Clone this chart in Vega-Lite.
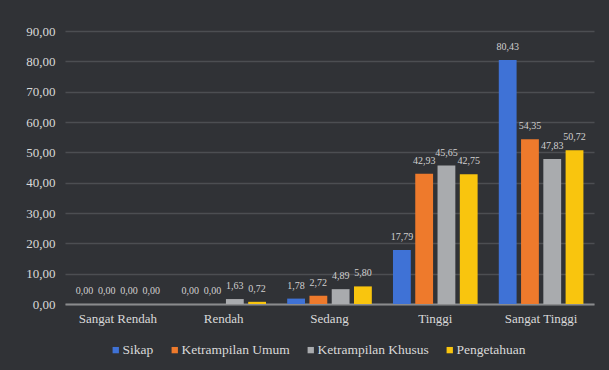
{
  "$schema": "https://vega.github.io/schema/vega-lite/v6.json",
  "width": 529,
  "height": 273,
  "autosize": {"type": "none"},
  "padding": {"left": 65, "top": 31, "right": 15, "bottom": 66},
  "background": "#303236",
  "config": {
    "locale": {"number": {"decimal": ",", "thousands": ".", "grouping": [3], "currency": ["", ""]}},
    "view": {"stroke": null},
    "font": "Liberation Serif",
    "legend": {"labelFont": "Liberation Serif", "titleFont": "Liberation Serif"}
  },
  "data": {
    "values": [
      {"kategori": "Sangat Rendah", "aspek": "Sikap", "nilai": 0},
      {"kategori": "Sangat Rendah", "aspek": "Ketrampilan Umum", "nilai": 0},
      {"kategori": "Sangat Rendah", "aspek": "Ketrampilan Khusus", "nilai": 0},
      {"kategori": "Sangat Rendah", "aspek": "Pengetahuan", "nilai": 0},
      {"kategori": "Rendah", "aspek": "Sikap", "nilai": 0},
      {"kategori": "Rendah", "aspek": "Ketrampilan Umum", "nilai": 0},
      {"kategori": "Rendah", "aspek": "Ketrampilan Khusus", "nilai": 1.63},
      {"kategori": "Rendah", "aspek": "Pengetahuan", "nilai": 0.72},
      {"kategori": "Sedang", "aspek": "Sikap", "nilai": 1.78},
      {"kategori": "Sedang", "aspek": "Ketrampilan Umum", "nilai": 2.72},
      {"kategori": "Sedang", "aspek": "Ketrampilan Khusus", "nilai": 4.89},
      {"kategori": "Sedang", "aspek": "Pengetahuan", "nilai": 5.80},
      {"kategori": "Tinggi", "aspek": "Sikap", "nilai": 17.79},
      {"kategori": "Tinggi", "aspek": "Ketrampilan Umum", "nilai": 42.93},
      {"kategori": "Tinggi", "aspek": "Ketrampilan Khusus", "nilai": 45.65},
      {"kategori": "Tinggi", "aspek": "Pengetahuan", "nilai": 42.75},
      {"kategori": "Sangat Tinggi", "aspek": "Sikap", "nilai": 80.43},
      {"kategori": "Sangat Tinggi", "aspek": "Ketrampilan Umum", "nilai": 54.35},
      {"kategori": "Sangat Tinggi", "aspek": "Ketrampilan Khusus", "nilai": 47.83},
      {"kategori": "Sangat Tinggi", "aspek": "Pengetahuan", "nilai": 50.72}
    ]
  },
  "encoding": {
    "x": {
      "field": "kategori",
      "type": "nominal",
      "sort": ["Sangat Rendah", "Rendah", "Sedang", "Tinggi", "Sangat Tinggi"],
      "scale": {"paddingInner": 0.2, "paddingOuter": 0.1},
      "axis": {
        "title": null,
        "labelAngle": 0,
        "labelFont": "Liberation Serif",
        "labelFontSize": 13,
        "labelColor": "#d9d9d9",
        "labelPadding": 8,
        "ticks": false,
        "domainColor": "#8a8b8d",
        "domainWidth": 2
      }
    },
    "xOffset": {
      "field": "aspek",
      "type": "nominal",
      "sort": ["Sikap", "Ketrampilan Umum", "Ketrampilan Khusus", "Pengetahuan"],
      "scale": {"paddingInner": 0.2}
    },
    "y": {
      "field": "nilai",
      "type": "quantitative",
      "scale": {"domain": [0, 90], "nice": false},
      "axis": {
        "title": null,
        "values": [0, 10, 20, 30, 40, 50, 60, 70, 80, 90],
        "format": ".2f",
        "labelFont": "Liberation Serif",
        "labelFontSize": 13,
        "labelColor": "#d9d9d9",
        "labelPadding": 10,
        "ticks": false,
        "domain": false,
        "gridColor": "#4c4e52",
        "gridWidth": 1.5
      }
    }
  },
  "layer": [
    {
      "mark": {"type": "bar"},
      "encoding": {
        "color": {
          "field": "aspek",
          "type": "nominal",
          "sort": ["Sikap", "Ketrampilan Umum", "Ketrampilan Khusus", "Pengetahuan"],
          "scale": {
            "domain": ["Sikap", "Ketrampilan Umum", "Ketrampilan Khusus", "Pengetahuan"],
            "range": ["#3f72d6", "#ee7a2c", "#a9abae", "#f9c50e"]
          },
          "legend": {
            "title": null,
            "orient": "none",
            "legendX": 44,
            "legendY": 312,
            "direction": "horizontal",
            "symbolType": "square",
            "symbolSize": 40,
            "symbolStrokeWidth": 0,
            "symbolOffset": 0,
            "labelOffset": 0,
            "labelFont": "Liberation Serif",
            "labelFontSize": 13.5,
            "labelColor": "#d9d9d9",
            "columnPadding": 14
          }
        }
      }
    },
    {
      "mark": {"type": "text", "dy": -13, "fontSize": 10, "color": "#d0d0d0", "font": "Liberation Serif"},
      "encoding": {
        "text": {"field": "nilai", "type": "quantitative", "format": ".2f"}
      }
    }
  ]
}
